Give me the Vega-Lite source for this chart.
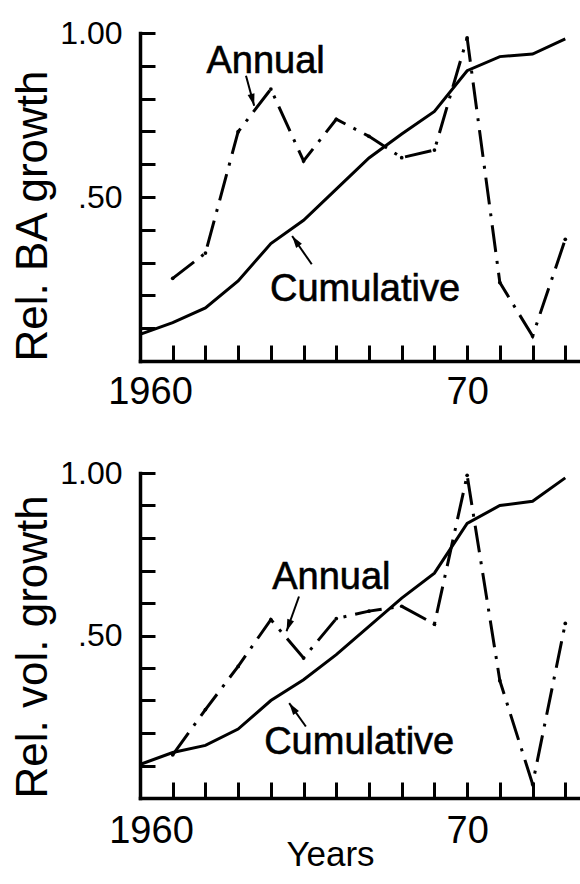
{
  "$schema": "https://vega.github.io/schema/vega-lite/v6.json",
  "background": "white",
  "padding": {"left": 11, "top": 17, "right": 0, "bottom": 0},
  "bounds": "flush",
  "spacing": 112,
  "config": {
    "view": {"stroke": null},
    "font": "Liberation Sans",
    "axis": {
      "domainColor": "black", "domainWidth": 3.5, "domainCap": "square",
      "tickColor": "black", "tickWidth": 3, "grid": false, "tickCount": 30,
      "labelColor": "black", "titleColor": "black",
      "labelFont": "Liberation Sans", "titleFont": "Liberation Sans", "titleFontWeight": "normal",
      "labelFlush": false, "labelOverlap": false
    }
  },
  "datasets": {
    "ba": [
      {"year": 1960, "series": "Cumulative", "value": 0.081},
      {"year": 1961, "series": "Cumulative", "value": 0.117},
      {"year": 1962, "series": "Cumulative", "value": 0.162},
      {"year": 1963, "series": "Cumulative", "value": 0.244},
      {"year": 1964, "series": "Cumulative", "value": 0.358},
      {"year": 1965, "series": "Cumulative", "value": 0.429},
      {"year": 1966, "series": "Cumulative", "value": 0.524},
      {"year": 1967, "series": "Cumulative", "value": 0.619},
      {"year": 1968, "series": "Cumulative", "value": 0.692},
      {"year": 1969, "series": "Cumulative", "value": 0.761},
      {"year": 1970, "series": "Cumulative", "value": 0.885},
      {"year": 1971, "series": "Cumulative", "value": 0.928},
      {"year": 1972, "series": "Cumulative", "value": 0.936},
      {"year": 1973, "series": "Cumulative", "value": 0.982},
      {"year": 1961, "series": "Annual", "value": 0.252},
      {"year": 1962, "series": "Annual", "value": 0.329},
      {"year": 1963, "series": "Annual", "value": 0.699},
      {"year": 1964, "series": "Annual", "value": 0.829},
      {"year": 1965, "series": "Annual", "value": 0.61},
      {"year": 1966, "series": "Annual", "value": 0.737},
      {"year": 1967, "series": "Annual", "value": 0.685},
      {"year": 1968, "series": "Annual", "value": 0.62},
      {"year": 1969, "series": "Annual", "value": 0.643},
      {"year": 1970, "series": "Annual", "value": 0.985},
      {"year": 1971, "series": "Annual", "value": 0.239},
      {"year": 1972, "series": "Annual", "value": 0.076},
      {"year": 1973, "series": "Annual", "value": 0.371}
    ],
    "vol": [
      {"year": 1960, "series": "Cumulative", "value": 0.103},
      {"year": 1961, "series": "Cumulative", "value": 0.14},
      {"year": 1962, "series": "Cumulative", "value": 0.162},
      {"year": 1963, "series": "Cumulative", "value": 0.212},
      {"year": 1964, "series": "Cumulative", "value": 0.3},
      {"year": 1965, "series": "Cumulative", "value": 0.364},
      {"year": 1966, "series": "Cumulative", "value": 0.441},
      {"year": 1967, "series": "Cumulative", "value": 0.528},
      {"year": 1968, "series": "Cumulative", "value": 0.615},
      {"year": 1969, "series": "Cumulative", "value": 0.692},
      {"year": 1970, "series": "Cumulative", "value": 0.845},
      {"year": 1971, "series": "Cumulative", "value": 0.9},
      {"year": 1972, "series": "Cumulative", "value": 0.913},
      {"year": 1973, "series": "Cumulative", "value": 0.985},
      {"year": 1961, "series": "Annual", "value": 0.133},
      {"year": 1962, "series": "Annual", "value": 0.272},
      {"year": 1963, "series": "Annual", "value": 0.405},
      {"year": 1964, "series": "Annual", "value": 0.549},
      {"year": 1965, "series": "Annual", "value": 0.431},
      {"year": 1966, "series": "Annual", "value": 0.552},
      {"year": 1967, "series": "Annual", "value": 0.575},
      {"year": 1968, "series": "Annual", "value": 0.59},
      {"year": 1969, "series": "Annual", "value": 0.535},
      {"year": 1970, "series": "Annual", "value": 0.993},
      {"year": 1971, "series": "Annual", "value": 0.361},
      {"year": 1972, "series": "Annual", "value": 0.043},
      {"year": 1973, "series": "Annual", "value": 0.537}
    ],
    "ba_labels": [
      {"text": "Annual", "year": 1963.84, "value": 0.879},
      {"text": "Cumulative", "year": 1966.88, "value": 0.183}
    ],
    "vol_labels": [
      {"text": "Annual", "year": 1965.85, "value": 0.642},
      {"text": "Cumulative", "year": 1966.7, "value": 0.134}
    ],
    "ba_arrows": [
      {"name": "Annual", "year": 1963.49, "value": 0.778, "year2": 1963.24, "value2": 0.87},
      {"name": "Cumulative", "year": 1964.65, "value": 0.381, "year2": 1965.25, "value2": 0.295}
    ],
    "vol_arrows": [
      {"name": "Annual", "year": 1964.48, "value": 0.513, "year2": 1964.86, "value2": 0.62},
      {"name": "Cumulative", "year": 1964.56, "value": 0.292, "year2": 1965.07, "value2": 0.22}
    ]
  },
  "vconcat": [
    {
      "width": 440,
      "height": 328,
      "layer": [
        {
          "data": {"name": "ba"},
          "transform": [{"filter": "datum.series == 'Cumulative'"}],
          "mark": {"type": "line", "color": "black", "strokeWidth": 3},
          "encoding": {
            "x": {
              "field": "year", "type": "quantitative",
              "scale": {"domain": [1960, 1973.45], "nice": false, "zero": false},
              "axis": {
                "title": null,
                "values": [1960, 1961, 1962, 1963, 1964, 1965, 1966, 1967, 1968, 1969, 1970, 1971, 1972, 1973],
                "labelExpr": "datum.value == 1960 ? '1960' : (datum.value == 1970 ? '70' : '')",
                "labelFontSize": 38,
                "tickSize": -16,
                "labelPadding": 28,
                "labelOffset": {"condition": {"test": "datum.value == 1960", "value": 10}, "value": 0}
              }
            },
            "y": {
              "field": "value", "type": "quantitative",
              "scale": {"domain": [0, 1], "nice": false},
              "axis": {
                "title": "Rel. BA growth",
                "values": [0.1, 0.2, 0.3, 0.4, 0.5, 0.6, 0.7, 0.8, 0.9, 1],
                "labelExpr": "datum.value == 1 ? '1.00' : (datum.value == 0.5 ? '.50' : '')",
                "labelFontSize": 32,
                "tickSize": -15,
                "labelPadding": 33,
                "titleFontSize": 44,
                "titlePadding": 4,
                "titleAnchor": "start"
              }
            }
          }
        },
        {
          "data": {"name": "ba"},
          "transform": [{"filter": "datum.series == 'Annual'"}],
          "mark": {"type": "line", "color": "black", "strokeWidth": 3, "strokeDash": [27, 9, 3, 9]},
          "encoding": {
            "x": {"field": "year", "type": "quantitative"},
            "y": {"field": "value", "type": "quantitative"}
          }
        },
        {
          "data": {"name": "ba"},
          "transform": [{"filter": "datum.series == 'Annual'"}],
          "mark": {"type": "point", "filled": true, "color": "black", "size": 14, "opacity": 1},
          "encoding": {
            "x": {"field": "year", "type": "quantitative"},
            "y": {"field": "value", "type": "quantitative"}
          }
        },
        {
          "data": {"name": "ba_labels"},
          "mark": {"type": "text", "font": "Liberation Sans", "fontSize": 38, "align": "center", "baseline": "alphabetic", "color": "black", "stroke": "black", "strokeWidth": 0.6},
          "encoding": {
            "x": {"field": "year", "type": "quantitative"},
            "y": {"field": "value", "type": "quantitative"},
            "text": {"field": "text"}
          }
        },
        {
          "data": {"name": "ba_arrows"},
          "mark": {"type": "rule", "color": "black", "strokeWidth": 2},
          "encoding": {
            "x": {"field": "year", "type": "quantitative"},
            "y": {"field": "value", "type": "quantitative"},
            "x2": {"field": "year2"},
            "y2": {"field": "value2"}
          }
        },
        {
          "data": {"name": "ba_arrows"},
          "transform": [{"filter": "datum.name == 'Annual'"}],
          "mark": {"type": "point", "shape": "M0,0L-0.5,1.7L0.5,1.7Z", "filled": true, "color": "black", "opacity": 1, "size": 200, "angle": 165},
          "encoding": {
            "x": {"field": "year", "type": "quantitative"},
            "y": {"field": "value", "type": "quantitative"}
          }
        },
        {
          "data": {"name": "ba_arrows"},
          "transform": [{"filter": "datum.name == 'Cumulative'"}],
          "mark": {"type": "point", "shape": "M0,0L-0.5,1.7L0.5,1.7Z", "filled": true, "color": "black", "opacity": 1, "size": 200, "angle": 325},
          "encoding": {
            "x": {"field": "year", "type": "quantitative"},
            "y": {"field": "value", "type": "quantitative"}
          }
        }
      ]
    },
    {
      "width": 440,
      "height": 325,
      "layer": [
        {
          "data": {"name": "vol"},
          "transform": [{"filter": "datum.series == 'Cumulative'"}],
          "mark": {"type": "line", "color": "black", "strokeWidth": 3},
          "encoding": {
            "x": {
              "field": "year", "type": "quantitative",
              "scale": {"domain": [1960, 1973.45], "nice": false, "zero": false},
              "axis": {
                "title": "Years",
                "values": [1960, 1961, 1962, 1963, 1964, 1965, 1966, 1967, 1968, 1969, 1970, 1971, 1972, 1973],
                "labelExpr": "datum.value == 1960 ? '1960' : (datum.value == 1970 ? '70' : '')",
                "labelFontSize": 38,
                "tickSize": -16,
                "labelPadding": 30,
                "labelOffset": {"condition": {"test": "datum.value == 1960", "value": 11}, "value": 0},
                "titleFontSize": 35,
                "titlePadding": -13,
                "titleX": 190
              }
            },
            "y": {
              "field": "value", "type": "quantitative",
              "scale": {"domain": [0, 1], "nice": false},
              "axis": {
                "title": "Rel. vol. growth",
                "values": [0.1, 0.2, 0.3, 0.4, 0.5, 0.6, 0.7, 0.8, 0.9, 1],
                "labelExpr": "datum.value == 1 ? '1.00' : (datum.value == 0.5 ? '.50' : '')",
                "labelFontSize": 32,
                "tickSize": -15,
                "labelPadding": 33,
                "titleFontSize": 44,
                "titlePadding": 4,
                "titleAnchor": "start"
              }
            }
          }
        },
        {
          "data": {"name": "vol"},
          "transform": [{"filter": "datum.series == 'Annual'"}],
          "mark": {"type": "line", "color": "black", "strokeWidth": 3, "strokeDash": [27, 9, 3, 9]},
          "encoding": {
            "x": {"field": "year", "type": "quantitative"},
            "y": {"field": "value", "type": "quantitative"}
          }
        },
        {
          "data": {"name": "vol"},
          "transform": [{"filter": "datum.series == 'Annual'"}],
          "mark": {"type": "point", "filled": true, "color": "black", "size": 14, "opacity": 1},
          "encoding": {
            "x": {"field": "year", "type": "quantitative"},
            "y": {"field": "value", "type": "quantitative"}
          }
        },
        {
          "data": {"name": "vol_labels"},
          "mark": {"type": "text", "font": "Liberation Sans", "fontSize": 38, "align": "center", "baseline": "alphabetic", "color": "black", "stroke": "black", "strokeWidth": 0.6},
          "encoding": {
            "x": {"field": "year", "type": "quantitative"},
            "y": {"field": "value", "type": "quantitative"},
            "text": {"field": "text"}
          }
        },
        {
          "data": {"name": "vol_arrows"},
          "mark": {"type": "rule", "color": "black", "strokeWidth": 2},
          "encoding": {
            "x": {"field": "year", "type": "quantitative"},
            "y": {"field": "value", "type": "quantitative"},
            "x2": {"field": "year2"},
            "y2": {"field": "value2"}
          }
        },
        {
          "data": {"name": "vol_arrows"},
          "transform": [{"filter": "datum.name == 'Annual'"}],
          "mark": {"type": "point", "shape": "M0,0L-0.5,1.7L0.5,1.7Z", "filled": true, "color": "black", "opacity": 1, "size": 200, "angle": 200},
          "encoding": {
            "x": {"field": "year", "type": "quantitative"},
            "y": {"field": "value", "type": "quantitative"}
          }
        },
        {
          "data": {"name": "vol_arrows"},
          "transform": [{"filter": "datum.name == 'Cumulative'"}],
          "mark": {"type": "point", "shape": "M0,0L-0.5,1.7L0.5,1.7Z", "filled": true, "color": "black", "opacity": 1, "size": 200, "angle": 325},
          "encoding": {
            "x": {"field": "year", "type": "quantitative"},
            "y": {"field": "value", "type": "quantitative"}
          }
        }
      ]
    }
  ]
}
